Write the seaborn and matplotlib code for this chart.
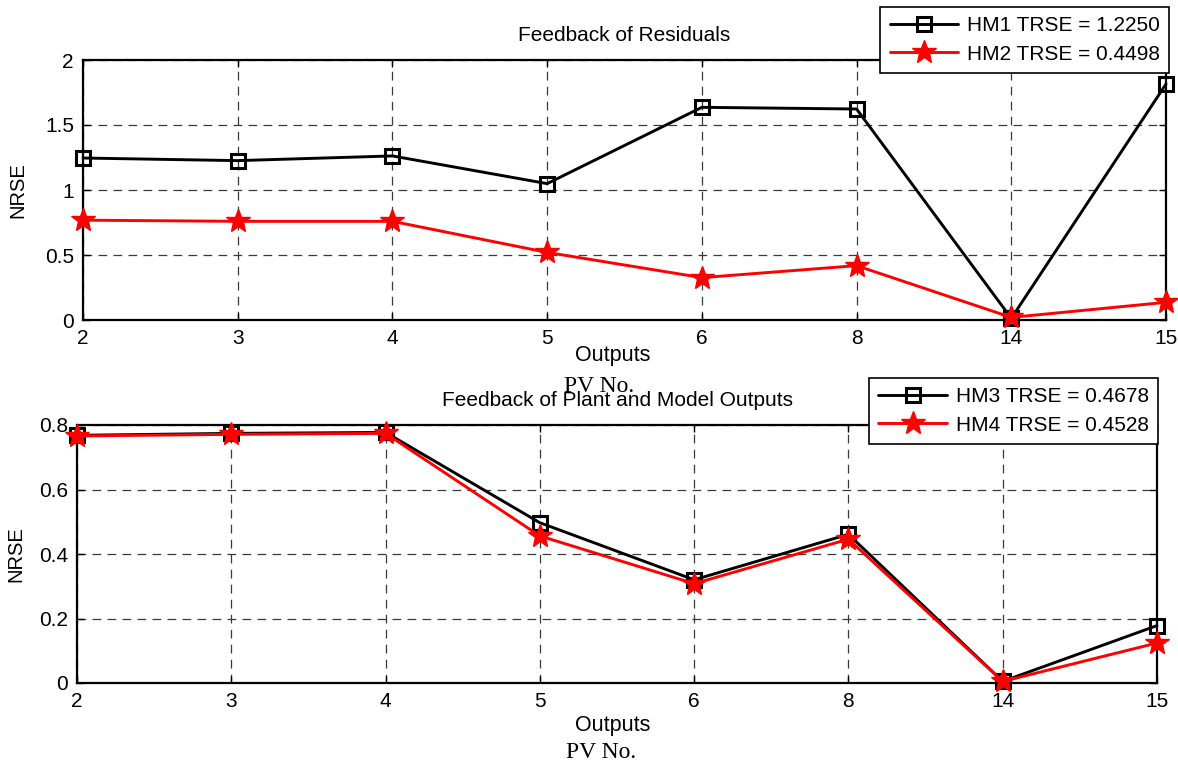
import matplotlib
matplotlib.use("Agg")
import matplotlib.pyplot as plt
import seaborn as sns
import pandas as pd

# PV numbers shown along the x axis
outputs = ["2", "3", "4", "5", "6", "8", "14", "15"]

# Feedback of residuals
hm1 = [1.246, 1.226, 1.262, 1.049, 1.636, 1.623, 0.013, 1.815]
hm2 = [0.768, 0.759, 0.759, 0.520, 0.326, 0.418, 0.020, 0.136]

# Feedback of plant and model outputs
hm3 = [0.768, 0.774, 0.777, 0.497, 0.320, 0.461, 0.005, 0.178]
hm4 = [0.766, 0.771, 0.774, 0.456, 0.308, 0.446, 0.005, 0.124]

labels_top = ["HM1 TRSE = 1.2250", "HM2 TRSE = 0.4498"]
labels_bot = ["HM3 TRSE = 0.4678", "HM4 TRSE = 0.4528"]

sns.set_theme(style="white")
plt.rcParams["font.family"] = ["Liberation Sans", "DejaVu Sans"]
plt.rcParams["text.color"] = "black"
plt.rcParams["axes.labelcolor"] = "black"
plt.rcParams["xtick.color"] = "black"
plt.rcParams["ytick.color"] = "black"

W, H = 1178, 765
fig = plt.figure(figsize=(W / 100, H / 100), dpi=100)


def px_axes(x0, y0, x1, y1):
    return fig.add_axes([x0 / W, 1 - y1 / H, (x1 - x0) / W, (y1 - y0) / H])


ax_top = px_axes(83, 60, 1166, 320)
ax_bot = px_axes(77, 425, 1157, 683)


def draw(ax, black, red, names, ymax, yticks, yticklabels, title):
    idx = list(range(len(outputs)))
    df = pd.DataFrame({"x": idx * 2,
                       "y": black + red,
                       "series": [names[0]] * len(idx) + [names[1]] * len(idx)})
    sns.lineplot(data=df[df.series == names[0]], x="x", y="y", ax=ax,
                 color="black", lw=2.1, marker="s", markersize=10,
                 markerfacecolor="none", markeredgecolor="black",
                 markeredgewidth=2.2, clip_on=False, label=names[0], zorder=3)
    sns.lineplot(data=df[df.series == names[1]], x="x", y="y", ax=ax,
                 color="red", lw=2.1, marker="*", markersize=18,
                 markerfacecolor="red", markeredgecolor="red",
                 markeredgewidth=1, clip_on=False, label=names[1], zorder=4)
    ax.set_xlim(0, len(outputs) - 1)
    ax.set_ylim(0, ymax)
    ax.set_xticks(idx)
    ax.set_xticklabels(outputs)
    ax.set_yticks(yticks)
    ax.set_yticklabels(yticklabels)
    ax.tick_params(axis="both", direction="in", length=5, width=1,
                   labelsize=15, colors="black")
    ax.tick_params(axis="x", pad=6.5)
    ax.tick_params(axis="y", pad=6.5)
    ax.tick_params(top=True, right=True, bottom=True, left=True)
    ax.grid(True, color="#3a3a3a", linestyle=(0, (7, 5)), linewidth=0.9)
    for s in ax.spines.values():
        s.set_color("black")
        s.set_linewidth(1.6)
    ax.set_xlabel("Outputs", fontsize=15.5, va="center")
    ax.set_ylabel("NRSE", fontsize=14.5, va="center")
    ax.set_title(title, fontsize=15, pad=14)
    return ax


draw(ax_top, hm1, hm2, labels_top, 2, [0, 0.5, 1, 1.5, 2],
     ["0", "0.5", "1", "1.5", "2"], "Feedback of Residuals")
draw(ax_bot, hm3, hm4, labels_bot, 0.8, [0, 0.2, 0.4, 0.6, 0.8],
     ["0", "0.2", "0.4", "0.6", "0.8"], "Feedback of Plant and Model Outputs")

# axis label positions (in axes fractions)
ax_top.xaxis.set_label_coords((613 - 83) / 1083, (320 - 355) / 260)
ax_bot.xaxis.set_label_coords((613 - 77) / 1080, (683 - 726) / 258)
ax_top.yaxis.set_label_coords((18 - 83) / 1083, 0.5)
ax_bot.yaxis.set_label_coords((16 - 77) / 1080, 0.5)

ax_top.get_legend().remove()
ax_bot.get_legend().remove()


def add_legend(ax, x1, y0):
    h, l = ax.get_legend_handles_labels()
    leg = fig.legend(h, l, loc="upper right",
                     bbox_to_anchor=(x1 / W, 1 - y0 / H),
                     bbox_transform=fig.transFigure, borderaxespad=0,
                     fontsize=15, handlelength=3.3, handletextpad=0.4,
                     borderpad=0.45, labelspacing=0.45, fancybox=False,
                     framealpha=1, edgecolor="black")
    leg.get_frame().set_linewidth(1.2)
    leg.set_zorder(10)
    return leg


add_legend(ax_top, 1169, 7)
add_legend(ax_bot, 1158, 378)

serif = ["Liberation Serif", "DejaVu Serif"]
fig.text(599 / W, 1 - 386 / H, "PV No.", family=serif, fontsize=17,
         ha="center", va="center")
fig.text(601 / W, 1 - 752 / H, "PV No.", family=serif, fontsize=17,
         ha="center", va="center")

fig.savefig("out.png", dpi=100, facecolor="white")
